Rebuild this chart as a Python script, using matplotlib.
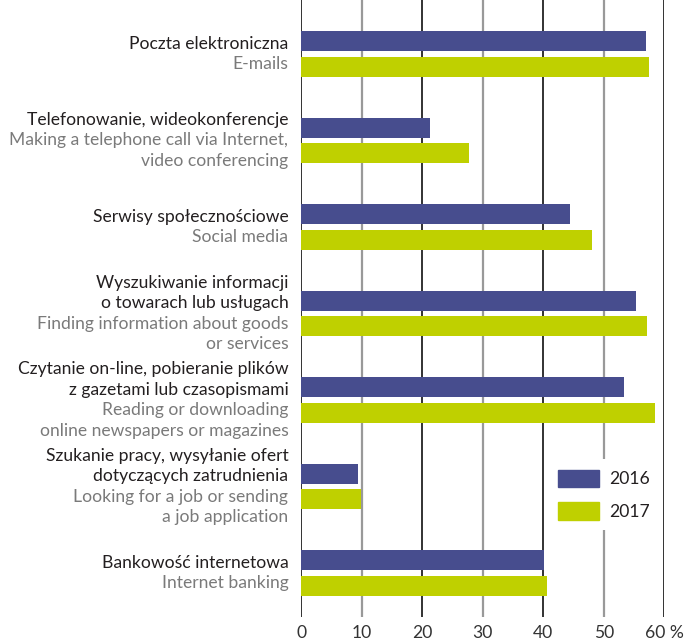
import numpy as np
import matplotlib
matplotlib.use("Agg")
import matplotlib.pyplot as plt
from matplotlib.patches import Patch

plt.rcParams['font.family'] = ['Lato', 'DejaVu Sans']

# Data
labels_pl = [
    "Poczta elektroniczna",
    "Telefonowanie, wideokonferencje",
    "Serwisy społecznościowe",
    "Wyszukiwanie informacji\no towarach lub usługach",
    "Czytanie on-line, pobieranie plików\nz gazetami lub czasopismami",
    "Szukanie pracy, wysyłanie ofert\ndotyczących zatrudnienia",
    "Bankowość internetowa",
]
labels_en = [
    "E-mails",
    "Making a telephone call via Internet,\nvideo conferencing",
    "Social media",
    "Finding information about goods\nor services",
    "Reading or downloading\nonline newspapers or magazines",
    "Looking for a job or sending\na job application",
    "Internet banking",
]
values_2016 = [57.0, 21.2, 44.4, 55.3, 53.3, 9.3, 40.1]
values_2017 = [57.4, 27.8, 48.0, 57.1, 58.5, 9.8, 40.6]
x_ticks = [0, 10, 20, 30, 40, 50, 60]
x_ticklabels = ["0", "10", "20", "30", "40", "50", "60 %"]

c2016 = "#474d8e"
c2017 = "#bfd000"

fig = plt.figure(figsize=(6.95, 6.41), dpi=100)
ax = fig.add_axes([301.3 / 695, (641 - 617) / 641, 363 / 695, 617 / 641])

y = np.arange(len(values_2016))
off = 0.147
h = 0.232

# grid lines
for t in x_ticks:
    col = "#222222" if t % 20 == 0 else "#999999"
    ax.axvline(t, color=col, lw=1.3 if t % 20 == 0 else 1.6, zorder=1)

ax.barh(y - off, values_2016, height=h, color=c2016, zorder=2)
ax.barh(y + off, values_2017, height=h, color=c2017, zorder=2)

ax.set_xlim(0, 60)
ax.set_ylim(6.51, -0.624)
ax.set_yticks([])
ax.set_xticks(x_ticks)
ax.set_xticklabels(x_ticklabels, fontsize=12.6, color="#333333")
ax.tick_params(axis='x', length=0, pad=6)
for s in ax.spines.values():
    s.set_visible(False)

# category labels
line_step = 0.238
for i in range(len(y)):
    pl = labels_pl[i].split("\n")
    en = labels_en[i].split("\n")
    lines = [(t, "#231f20") for t in pl] + [(t, "#7a7a7a") for t in en]
    n = len(lines)
    for k, (txt, col) in enumerate(lines):
        yy = y[i] + (k - (n - 1) / 2) * line_step
        ax.text(-2.15, yy, txt, ha="right", va="center", fontsize=12.6,
                color=col, clip_on=False)

handles = [Patch(color=c2016, label="2016"), Patch(color=c2017, label="2017")]
leg = ax.legend(handles=handles, loc="upper left", bbox_to_anchor=(0.655, 0.27),
                frameon=True, fontsize=12.6, handlelength=2.3, handleheight=1.15,
                handletextpad=0.6, labelspacing=0.85, borderpad=0.6,
                fancybox=False)
leg.get_frame().set_edgecolor("none")
leg.get_frame().set_facecolor("white")
leg.get_frame().set_alpha(1)
leg.set_zorder(5)
for t in leg.get_texts():
    t.set_color("#231f20")

fig.savefig("out.png", dpi=100)
